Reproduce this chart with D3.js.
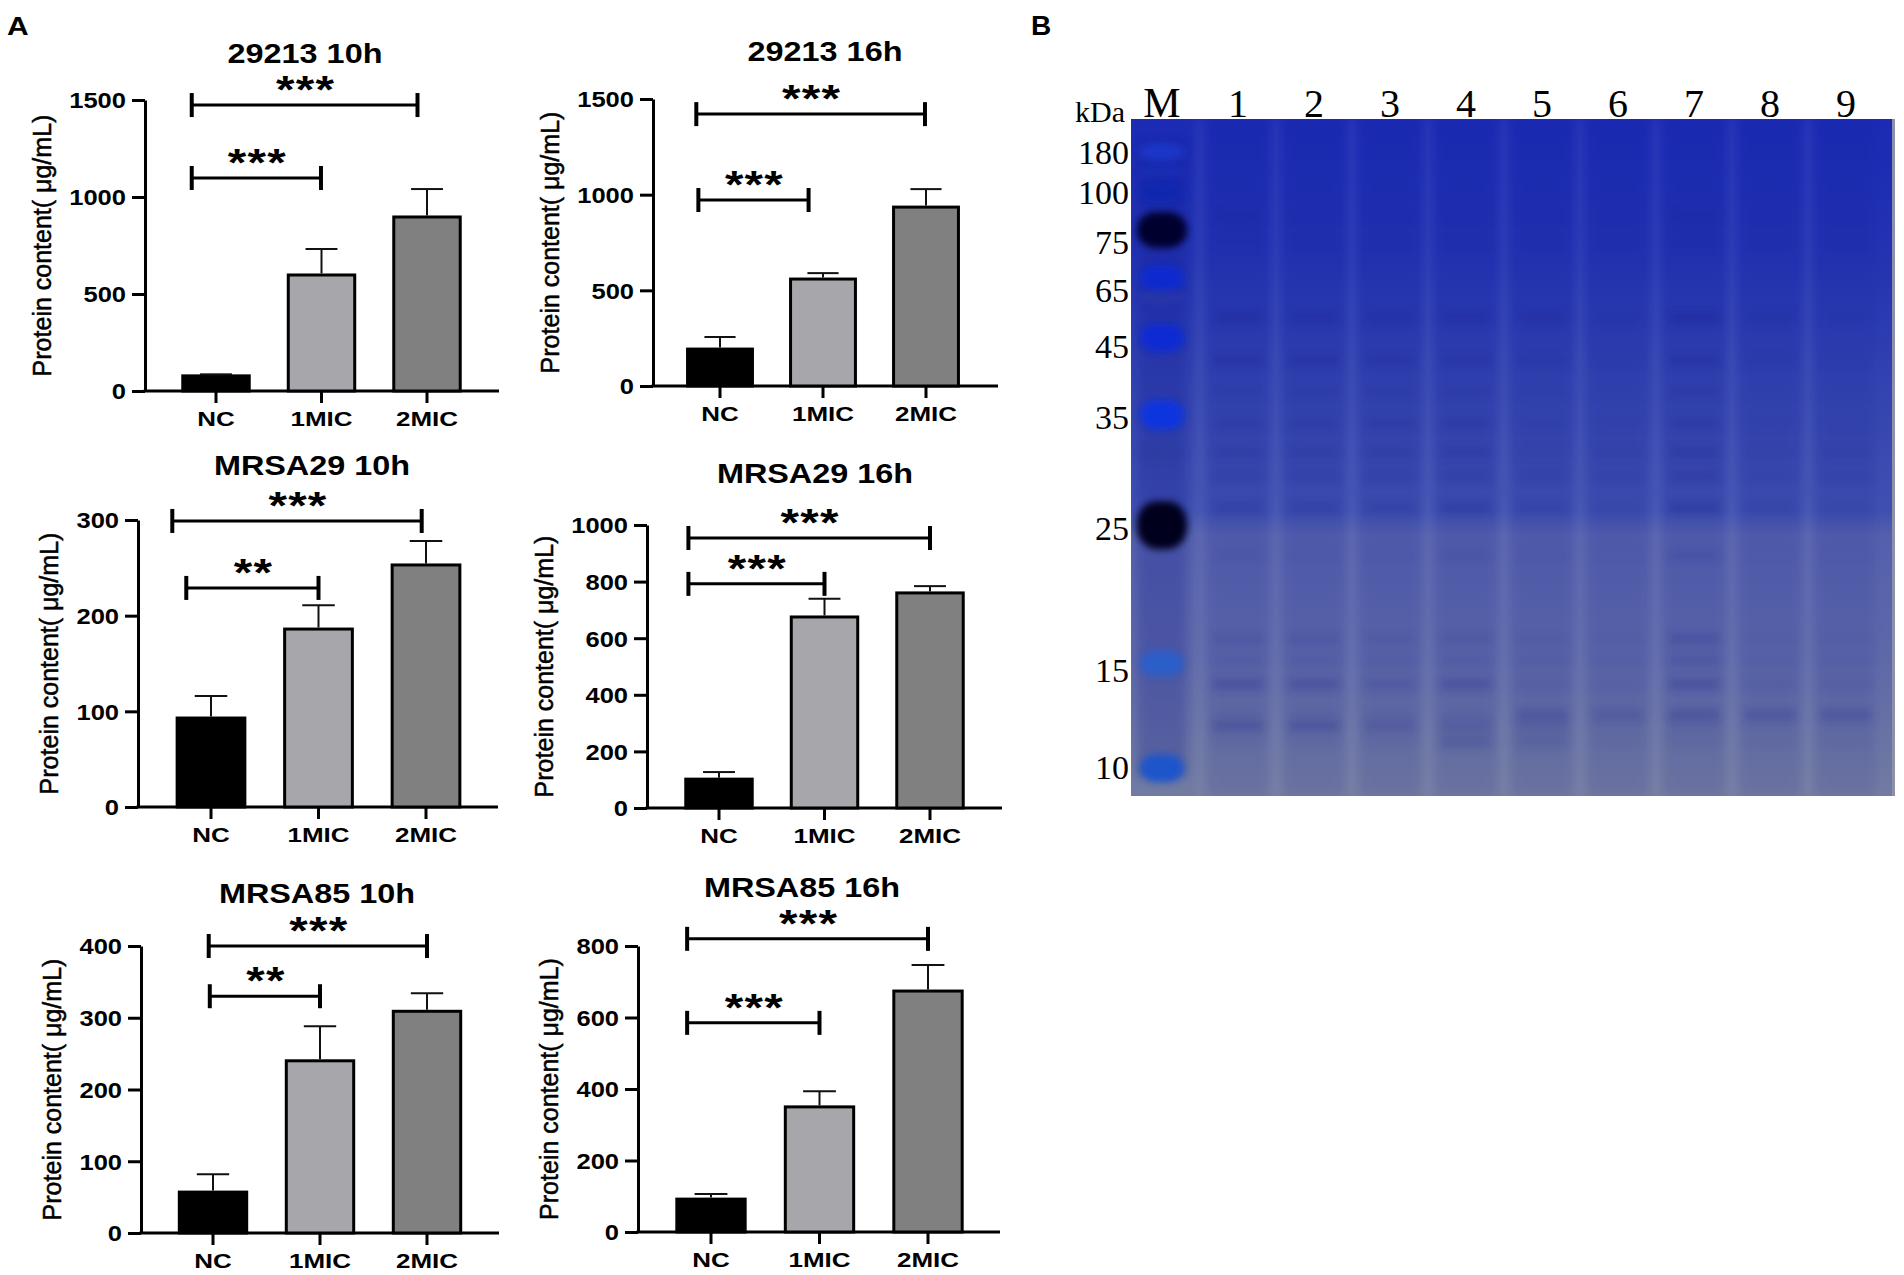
<!DOCTYPE html>
<html><head><meta charset="utf-8">
<script src="https://cdn.jsdelivr.net/npm/d3@7"></script>
<style>body{margin:0;background:#fff} svg{display:block}</style>
</head><body>
<svg id="fig" width="1904" height="1275"></svg>
<script>
// ---------------- DATA ----------------
const categories = ["NC", "1MIC", "2MIC"];
const panelTitles = ["29213 10h", "29213 16h", "MRSA29 10h", "MRSA29 16h", "MRSA85 10h", "MRSA85 16h"];
const meanValues = [
  [78, 598, 897],
  [193, 559, 935],
  [93, 186, 253],
  [102, 675, 760],
  [57, 240, 309],
  [92, 350, 674]
];
const errorValues = [
  [8, 134, 144],
  [63, 31, 94],
  [23, 25, 25],
  [25, 64, 24],
  [25, 48, 25],
  [14, 44, 73]
];
const yMaxValues = [1500, 1500, 300, 1000, 400, 800];
const yTickSteps = [500, 500, 100, 200, 100, 200];
// significance brackets (start/end in category-index units, level in data units)
const sigStart = [[-0.23, -0.23], [-0.23, -0.21], [-0.36, -0.23], [-0.29, -0.29], [-0.04, -0.03], [-0.22, -0.22]];
const sigEnd   = [[1.91, 0.995], [1.99, 0.86], [1.96, 1.0], [2.0, 1.0], [2.0, 1.0], [2.0, 1.0]];
const sigLevel = [[1474, 1098], [1421, 972], [299, 229], [954, 792], [400, 330], [820, 585]];
const sigLabel = [["***", "***"], ["***", "***"], ["***", "**"], ["***", "***"], ["***", "**"], ["***", "***"]];
const barColors = ["#000000", "#a6a6ab", "#808080"];

// gel (panel B)
const gelLanes = ["M", "1", "2", "3", "4", "5", "6", "7", "8", "9"];
const markerKDa = [180, 100, 75, 65, 45, 35, 25, 15, 10];
const markerLabelRf = [0.049, 0.108, 0.182, 0.253, 0.335, 0.440, 0.604, 0.814, 0.957];
const markerBandRf = [0.049, 0.078, 0.109, 0.164, 0.235, 0.263, 0.323, 0.437, 0.493, 0.600, 0.804, 0.959];
const markerBandColor = ["#1c3ad0", "#1632bc", "#1026b0", "#03062e", "#0a2ad0", "#2d3ea8", "#0a2ad4", "#0a34e0", "#2a3a9c", "#02041c", "#2a5ecc", "#1e54cc"];
const markerBandAlpha = [0.75, 0.55, 0.85, 1.0, 0.95, 0.45, 0.98, 0.98, 0.4, 1.0, 0.92, 0.98];
const markerBandSize = [18, 12, 20, 36, 26, 12, 28, 30, 14, 48, 26, 28];
const sampleBandRf = [0.145, 0.183, 0.293, 0.357, 0.403, 0.450, 0.493, 0.527, 0.574, 0.645, 0.768, 0.800, 0.835, 0.880, 0.897, 0.920];
const sampleBandIntensity = [
  [0.30, 0.10, 0.10, 0.15, 0.10, 0.05, 0.35, 0.05, 0.05],
  [0.20, 0.10, 0.10, 0.10, 0.05, 0.05, 0.30, 0.05, 0.05],
  [0.60, 0.55, 0.50, 0.55, 0.45, 0.20, 0.75, 0.35, 0.15],
  [0.60, 0.60, 0.50, 0.45, 0.30, 0.15, 0.60, 0.25, 0.10],
  [0.25, 0.30, 0.30, 0.30, 0.15, 0.10, 0.35, 0.10, 0.10],
  [0.35, 0.35, 0.40, 0.45, 0.20, 0.15, 0.45, 0.15, 0.10],
  [0.40, 0.40, 0.40, 0.45, 0.20, 0.25, 0.55, 0.20, 0.25],
  [0.35, 0.35, 0.35, 0.40, 0.30, 0.25, 0.50, 0.20, 0.25],
  [0.45, 0.45, 0.40, 0.60, 0.35, 0.20, 0.70, 0.30, 0.20],
  [0.15, 0.10, 0.10, 0.20, 0.10, 0.05, 0.30, 0.05, 0.05],
  [0.30, 0.30, 0.20, 0.25, 0.15, 0.10, 0.45, 0.10, 0.10],
  [0.20, 0.20, 0.15, 0.20, 0.15, 0.10, 0.35, 0.10, 0.10],
  [0.60, 0.55, 0.35, 0.55, 0.20, 0.10, 0.60, 0.20, 0.20],
  [0.15, 0.15, 0.15, 0.15, 0.55, 0.40, 0.60, 0.55, 0.55],
  [0.60, 0.60, 0.45, 0.40, 0.30, 0.10, 0.20, 0.10, 0.10],
  [0.10, 0.10, 0.10, 0.45, 0.30, 0.05, 0.10, 0.05, 0.05]
];

// ---------------- LAYOUT ----------------
const layouts = [
  {ax: 145, y0: 391, yTop: 100, c0: 216, c2: 427, tx: 305, ty: 63},
  {ax: 653, y0: 386, yTop: 99,  c0: 720, c2: 926, tx: 825, ty: 61},
  {ax: 138, y0: 807, yTop: 520, c0: 211, c2: 426, tx: 312, ty: 475},
  {ax: 647, y0: 808, yTop: 525, c0: 719, c2: 930, tx: 815, ty: 483},
  {ax: 141, y0: 1233, yTop: 946, c0: 213, c2: 427, tx: 317, ty: 903},
  {ax: 638, y0: 1232, yTop: 946, c0: 711, c2: 928, tx: 802, ty: 897}
];
const SANS = "'Liberation Sans', Arial, Helvetica, sans-serif";
const SERIF = "'Liberation Serif', 'Times New Roman', serif";
const SX = 1.16; // horizontal stretch of panel A tick lettering

const svg = d3.select("#fig");
svg.append("rect").attr("width", 1904).attr("height", 1275).attr("fill", "#fff");

function stretchedText(parent, x, y, str, size, weight, sx, anchor) {
  return parent.append("text")
    .attr("transform", `translate(${x},${y}) scale(${sx},1)`)
    .attr("text-anchor", anchor || "middle")
    .attr("font-family", SANS).attr("font-size", size).attr("font-weight", weight)
    .attr("fill", "#000").text(str);
}

// panel letters
stretchedText(svg, 7, 35, "A", 25, "bold", 1.2, "start");
svg.append("text").attr("x", 1031).attr("y", 35).attr("font-family", SANS)
  .attr("font-size", 28).attr("font-weight", "bold").text("B");

function drawPanel(i) {
  const L = layouts[i];
  const g = svg.append("g");
  const step = (L.c2 - L.c0) / 2;
  const x = d3.scaleBand().domain(categories)
    .range([L.c0 - step / 2, L.c2 + step / 2])
    .paddingInner(0.37).paddingOuter(0.185);
  const bw = x.bandwidth();
  const y = d3.scaleLinear().domain([0, yMaxValues[i]]).range([L.y0, L.yTop]);
  const xEnd = L.c2 + 72;

  // y axis
  const ticks = d3.range(0, yMaxValues[i] + 1, yTickSteps[i]);
  const yAxis = g.append("g").attr("transform", `translate(${L.ax},0)`)
    .call(d3.axisLeft(y).tickValues(ticks).tickSize(13).tickSizeOuter(0).tickPadding(6).tickFormat(d3.format("d")));
  yAxis.select(".domain").attr("stroke", "#000").attr("stroke-width", 3);
  yAxis.selectAll(".tick line").attr("stroke", "#000").attr("stroke-width", 3);
  yAxis.selectAll(".tick text")
    .attr("font-family", SANS).attr("font-size", 22).attr("font-weight", "bold").attr("fill", "#000")
    .attr("x", -19 / SX).attr("dy", "0.36em").attr("transform", `scale(${SX},1)`);
  let maxW = 0;
  yAxis.selectAll(".tick text").each(function () { maxW = Math.max(maxW, this.getComputedTextLength() * SX); });

  // x axis
  g.append("line").attr("x1", L.ax - 1.5).attr("x2", xEnd).attr("y1", L.y0).attr("y2", L.y0)
    .attr("stroke", "#000").attr("stroke-width", 3);
  const xAxis = g.append("g").attr("transform", `translate(0,${L.y0})`)
    .call(d3.axisBottom(x).tickSize(12).tickSizeOuter(0));
  xAxis.select(".domain").remove();
  xAxis.selectAll(".tick line").attr("stroke", "#000").attr("stroke-width", 3);
  xAxis.selectAll(".tick text")
    .attr("font-family", SANS).attr("font-size", 20).attr("font-weight", "bold").attr("fill", "#000")
    .attr("y", 35).attr("dy", 0).attr("transform", "scale(1.3,1)");

  // bars
  const rows = categories.map((c, k) => ({c, v: meanValues[i][k], e: errorValues[i][k], col: barColors[k]}));
  g.selectAll("rect.bar").data(rows).join("rect").attr("class", "bar")
    .attr("x", d => x(d.c)).attr("width", bw)
    .attr("y", d => y(d.v)).attr("height", d => L.y0 - y(d.v))
    .attr("fill", d => d.col).attr("stroke", "#000").attr("stroke-width", 3);

  // error bars (upper)
  const cap = bw * 0.24;
  g.selectAll("line.err").data(rows).join("line").attr("class", "err")
    .attr("x1", d => x(d.c) + bw / 2).attr("x2", d => x(d.c) + bw / 2)
    .attr("y1", d => y(d.v) - 1.5).attr("y2", d => y(d.v + d.e))
    .attr("stroke", "#111").attr("stroke-width", 2);
  g.selectAll("line.cap").data(rows).join("line").attr("class", "cap")
    .attr("x1", d => x(d.c) + bw / 2 - cap).attr("x2", d => x(d.c) + bw / 2 + cap)
    .attr("y1", d => y(d.v + d.e)).attr("y2", d => y(d.v + d.e))
    .attr("stroke", "#111").attr("stroke-width", 2);

  // significance brackets
  const xi = d3.scaleLinear().domain([0, 2]).range([x(categories[0]) + bw / 2, x(categories[2]) + bw / 2]);
  const sig = sigStart[i].map((a, k) => ({a, b: sigEnd[i][k], lv: sigLevel[i][k], s: sigLabel[i][k]}));
  sig.forEach(d => {
    const yy = y(d.lv), xa = xi(d.a), xb = xi(d.b);
    g.append("line").attr("x1", xa).attr("x2", xb).attr("y1", yy).attr("y2", yy)
      .attr("stroke", "#000").attr("stroke-width", 3);
    [xa, xb].forEach(xx => g.append("line").attr("x1", xx).attr("x2", xx)
      .attr("y1", yy - 12).attr("y2", yy + 12).attr("stroke", "#000").attr("stroke-width", 4));
    stretchedText(g, (xa + xb) / 2 + 1, yy - 2, d.s, 38, "bold", 1.25, "middle")
      .attr("letter-spacing", 1);
  });

  // title
  stretchedText(g, L.tx, L.ty, panelTitles[i], 27, "bold", 1.2, "middle");

  // y-axis title
  const ytx = L.ax - 19 - maxW - 27;
  const ytY = (L.y0 + L.yTop) / 2;
  g.append("text").attr("transform", `translate(${ytx},${ytY}) rotate(-90)`)
    .attr("text-anchor", "middle").attr("dominant-baseline", "central")
    .attr("font-family", SANS).attr("font-size", 25).attr("fill", "#000")
    .attr("stroke", "#000").attr("stroke-width", 0.5)
    .text("Protein content( μg/mL)");
}
for (let i = 0; i < 6; i++) drawPanel(i);

// ---------------- GEL ----------------
const gel = {x0: 1131, y0: 119, x1: 1895, y1: 796};
const laneX = d3.scalePoint().domain(gelLanes).range([1162, 1846]);
const rfY = d3.scaleLinear().domain([0, 1]).range([gel.y0, gel.y1]);
const defs = svg.append("defs");
const grad = defs.append("linearGradient").attr("id", "gelGrad").attr("x1", 0).attr("y1", 0).attr("x2", 0).attr("y2", 1);
[[0, "#1b2bb4"], [0.2, "#2333b2"], [0.4, "#3444b0"], [0.58, "#4050b0"], [0.615, "#5460ad"], [0.8, "#5e69a9"], [1, "#727ba1"]]
  .forEach(([o, c]) => grad.append("stop").attr("offset", o).attr("stop-color", c));
const fb = defs.append("filter").attr("id", "blurBand").attr("x", "-30%").attr("y", "-250%").attr("width", "160%").attr("height", "600%");
fb.append("feGaussianBlur").attr("stdDeviation", "4.5 4.5");
const fm = defs.append("filter").attr("id", "blurMarker").attr("x", "-40%").attr("y", "-100%").attr("width", "180%").attr("height", "300%");
fm.append("feGaussianBlur").attr("stdDeviation", "3.5 3.5");
const fs = defs.append("filter").attr("id", "blurSoft").attr("x", "-80%").attr("y", "-10%").attr("width", "260%").attr("height", "120%");
fs.append("feGaussianBlur").attr("stdDeviation", "4 4");
const clip = defs.append("clipPath").attr("id", "gelClip");
clip.append("rect").attr("x", gel.x0).attr("y", gel.y0).attr("width", gel.x1 - gel.x0).attr("height", gel.y1 - gel.y0);

const gg = svg.append("g");
gg.append("rect").attr("x", gel.x0).attr("y", gel.y0).attr("width", gel.x1 - gel.x0).attr("height", gel.y1 - gel.y0)
  .attr("fill", "url(#gelGrad)");
const gc = gg.append("g").attr("clip-path", "url(#gelClip)");
const sampleLanes = gelLanes.slice(1);
// lane columns
gc.selectAll("rect.lane").data(sampleLanes).join("rect").attr("class", "lane")
  .attr("x", d => laneX(d) - 29).attr("width", 58).attr("y", gel.y0).attr("height", gel.y1 - gel.y0)
  .attr("fill", "#0e1288").attr("opacity", 0.08).attr("filter", "url(#blurSoft)");
// lighter streaks between lanes
const gaps = gelLanes.slice(0, -1).map((d, k) => (laneX(d) + laneX(gelLanes[k + 1])) / 2);
gc.selectAll("rect.streak").data(gaps).join("rect").attr("class", "streak")
  .attr("x", d => d - 4).attr("width", 8).attr("y", gel.y0).attr("height", gel.y1 - gel.y0)
  .attr("fill", "#c8ccf0").attr("opacity", 0.08).attr("filter", "url(#blurSoft)");
// marker lane smear
gc.append("rect").attr("x", laneX("M") - 24).attr("width", 48).attr("y", rfY(0.03)).attr("height", rfY(0.97) - rfY(0.03))
  .attr("fill", "#0a1890").attr("opacity", 0.22).attr("filter", "url(#blurSoft)");
// sample bands
sampleBandRf.forEach((rf, r) => {
  sampleLanes.forEach((ln, j) => {
    const v = sampleBandIntensity[r][j];
    gc.append("rect").attr("x", laneX(ln) - 26).attr("width", 52)
      .attr("y", rfY(rf) - 5.5).attr("height", 11)
      .attr("fill", "#181d8e").attr("opacity", v * 0.4).attr("filter", "url(#blurBand)");
  });
});
// marker bands
markerBandRf.forEach((rf, k) => {
  const h = markerBandSize[k];
  const w = h > 30 ? 50 : 44;
  gc.append("rect").attr("x", laneX("M") - w / 2).attr("width", w)
    .attr("y", rfY(rf) - h / 2).attr("height", h).attr("rx", w / 2.5).attr("ry", h / 2.2)
    .attr("fill", markerBandColor[k]).attr("opacity", markerBandAlpha[k]).attr("filter", "url(#blurMarker)");
});
// right edge shadow
gg.append("rect").attr("x", gel.x1 - 3).attr("width", 3).attr("y", gel.y0).attr("height", gel.y1 - gel.y0)
  .attr("fill", "#8d90a8");

// gel labels
gg.append("text").attr("x", gel.x0 - 6).attr("y", gel.y0 + 3).attr("text-anchor", "end")
  .attr("font-family", SERIF).attr("font-size", 30).attr("fill", "#000").text("kDa");
gg.selectAll("text.lane").data(gelLanes).join("text").attr("class", "lane")
  .attr("x", d => laneX(d)).attr("y", gel.y0 - 2).attr("text-anchor", "middle")
  .attr("font-family", SERIF).attr("font-size", d => d === "M" ? 42 : 40).attr("fill", "#000").text(d => d);
gg.selectAll("text.mw").data(markerKDa).join("text").attr("class", "mw")
  .attr("x", gel.x0 - 2).attr("y", (d, k) => rfY(markerLabelRf[k]) + 12).attr("text-anchor", "end")
  .attr("font-family", SERIF).attr("font-size", 34).attr("fill", "#000").text(d => d);
</script>
</body></html>
